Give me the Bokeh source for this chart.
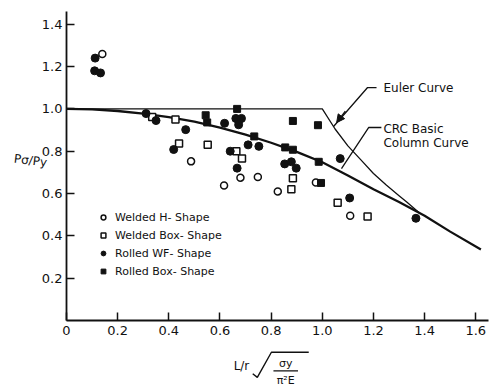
from bokeh.plotting import figure
from bokeh.models import (Label, Arrow, NormalHead, FixedTicker, Range1d, PrintfTickFormatter)
from bokeh.embed import file_html
from bokeh.resources import INLINE

# ---- data ----
wh_x = [0.14, 0.487, 0.616, 0.68, 0.748, 0.826, 0.673, 0.975, 1.109]
wh_y = [1.26, 0.752, 0.638, 0.675, 0.678, 0.61, 0.942, 0.652, 0.495]

wb_x = [0.335, 0.426, 0.44, 0.552, 0.664, 0.686, 0.885, 0.879, 1.06, 1.177]
wb_y = [0.962, 0.95, 0.836, 0.83, 0.80, 0.766, 0.672, 0.62, 0.557, 0.492]

rw_x = [0.112, 0.11, 0.133, 0.311, 0.35, 0.466, 0.419, 0.618, 0.64, 0.71, 0.752,
        0.667, 0.853, 0.879, 0.898, 1.07, 1.107, 1.366, 0.662, 0.684, 0.673]
rw_y = [1.24, 1.18, 1.17, 0.978, 0.945, 0.902, 0.808, 0.932, 0.80, 0.83, 0.823,
        0.72, 0.74, 0.75, 0.72, 0.765, 0.579, 0.483, 0.955, 0.955, 0.925]

rb_x = [0.667, 0.544, 0.55, 0.734, 0.855, 0.885, 0.885, 0.983, 0.986, 0.995]
rb_y = [1.0, 0.97, 0.936, 0.87, 0.818, 0.807, 0.943, 0.923, 0.75, 0.65]

crc_x = [0, 0.1, 0.2, 0.3, 0.4, 0.5, 0.6, 0.7, 0.8, 0.9, 1.0, 1.1, 1.2, 1.3, 1.4, 1.5, 1.62]
crc_y = [1.0, 0.998, 0.99, 0.978, 0.961, 0.94, 0.912, 0.878, 0.84, 0.797, 0.748, 0.685,
         0.62, 0.56, 0.495, 0.42, 0.335]

euler_x = [0, 1.0, 1.05, 1.1, 1.15, 1.2, 1.25, 1.3, 1.33, 1.38]
euler_y = [1.0, 1.0, 0.905, 0.825, 0.76, 0.695, 0.64, 0.59, 0.56, 0.508]

x_ticks = [0, 0.2, 0.4, 0.6, 0.8, 1.0, 1.2, 1.4, 1.6]
y_ticks = [0.2, 0.4, 0.6, 0.8, 1.0, 1.2, 1.4]

legend_names = ["Welded H- Shape", "Welded Box- Shape", "Rolled WF- Shape", "Rolled Box- Shape"]

FONT = "DejaVu Sans"
INK = "#111111"

p = figure(width=500, height=388, output_backend="svg", toolbar_location=None,
           x_range=Range1d(-0.258, 1.6966), y_range=Range1d(-0.3214, 1.5123),
           min_border=0)
p.outline_line_color = None
p.grid.visible = False
p.background_fill_color = "white"

for ax in (p.xaxis[0], p.yaxis[0]):
    ax.fixed_location = 0
    ax.axis_line_width = 1.8
    ax.axis_line_color = INK
    ax.major_tick_in = 8
    ax.major_tick_out = 0
    ax.major_tick_line_width = 1.5
    ax.major_tick_line_color = INK
    ax.minor_tick_line_color = None
    ax.major_label_text_font = FONT
    ax.major_label_text_font_size = "13px"
    ax.major_label_text_color = INK
    ax.formatter = PrintfTickFormatter(format="%.1f")

p.xaxis.bounds = (0, 1.65)
p.yaxis.bounds = (0, 1.46)
p.xaxis.ticker = FixedTicker(ticks=x_ticks)
p.xaxis.major_label_overrides = {0: "0"}
p.xaxis.major_label_standoff = 6
p.yaxis.ticker = FixedTicker(ticks=y_ticks)
p.yaxis.major_label_standoff = 4

# curves
p.line(euler_x, euler_y, line_color=INK, line_width=1.3)
p.line(crc_x, crc_y, line_color=INK, line_width=2.3)

# points
p.scatter(wh_x, wh_y, marker="circle", size=7, fill_color="white",
          line_color=INK, line_width=1.5, legend_label=legend_names[0])
p.scatter(wb_x, wb_y, marker="square", size=7, fill_color="white",
          line_color=INK, line_width=1.5, legend_label=legend_names[1])
p.scatter(rw_x, rw_y, marker="circle", size=8, fill_color=INK,
          line_color=INK, line_width=1, legend_label=legend_names[2])
p.scatter(rb_x, rb_y, marker="square", size=7, fill_color=INK,
          line_color=INK, line_width=1, legend_label=legend_names[3])

lg = p.legend[0]
lg.location = (97, 109)
lg.padding = 0
lg.margin = 0
lg.spacing = 2
lg.glyph_width = 12
lg.glyph_height = 16
lg.label_height = 16
lg.label_standoff = 6
lg.border_line_color = None
lg.background_fill_alpha = 0
lg.label_text_font = FONT
lg.label_text_font_size = "11px"
lg.label_text_color = INK

# annotation leaders
p.line([1.212, 1.177, 1.044], [1.101, 1.101, 0.917], line_color=INK, line_width=1.3)
p.add_layout(Arrow(end=NormalHead(size=8, fill_color=INK, line_color=INK),
                   x_start=1.09, y_start=0.99, x_end=1.056, y_end=0.935,
                   line_color=INK, line_width=1.3))
p.line([1.231, 1.181, 1.075], [0.912, 0.912, 0.718], line_color=INK, line_width=1.3)

def lab(x, y, t, size="12px", align="left", base="middle", angle=0):
    p.add_layout(Label(x=x, y=y, text=t, text_font=FONT, text_font_size=size,
                       text_color=INK, text_align=align, text_baseline=base, angle=angle))

lab(1.239, 1.101, "Euler Curve")
lab(1.239, 0.907, "CRC Basic")
lab(1.239, 0.841, "Column Curve")

# axis titles
lab(-0.141, 0.756, "Pσ/Py", size="12px", align="center", angle=-0.12)
lab(0.684, -0.217, "L/r", size="12px", align="center")
# radical sign and fraction bar of the x-axis title
p.line([0.728, 0.746, 0.801, 0.947], [-0.252, -0.269, -0.150, -0.150],
       line_color=INK, line_width=1.4)
p.line([0.809, 0.905], [-0.238, -0.238], line_color=INK, line_width=1.2)
lab(0.857, -0.201, "σy", size="11px", align="center")
lab(0.857, -0.282, "π²E", size="11px", align="center")

open("out.html", "w").write(file_html(p, INLINE))
